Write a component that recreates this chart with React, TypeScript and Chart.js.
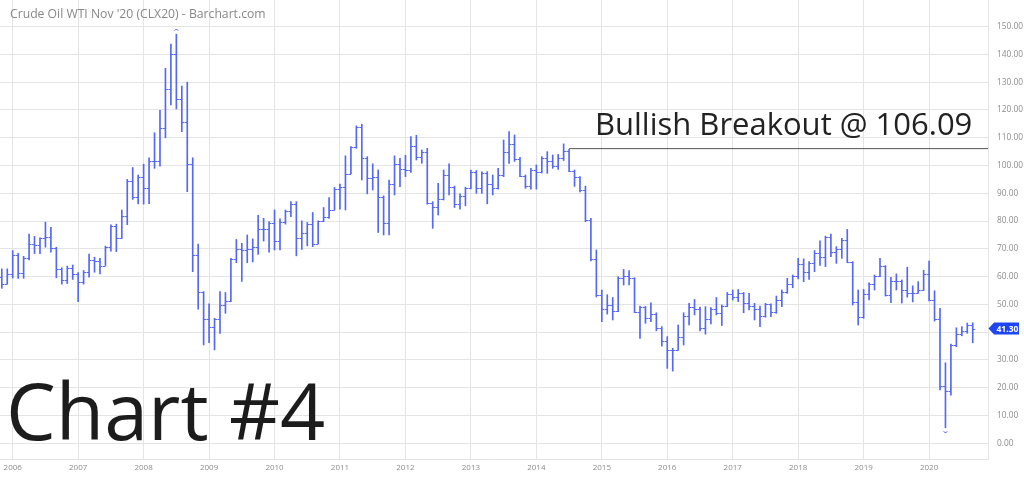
import React, { useEffect, useRef } from 'react';
import { Chart, registerables } from 'chart.js';

Chart.register(...registerables);

// Monthly OHLC, month index 0 = Nov 2005 ... 178 = Sep 2020
const opens = [
  59.8, 57.3,
  61.0, 67.9, 61.4, 66.6, 71.9, 71.3, 73.9, 74.4, 70.3, 62.9, 58.7, 63.0,
  61.05, 58.1, 61.8, 65.9, 65.7, 64.0, 70.7, 78.2, 74.0, 81.7, 94.5, 88.7,
  96.0, 91.75, 101.8, 101.6, 113.5, 127.4, 140.0, 124.1, 115.5, 100.6, 67.8, 54.4,
  44.6, 41.7, 44.8, 49.7, 51.1, 66.3, 69.9, 69.45, 70.0, 70.6, 77.0, 77.3,
  79.4, 72.9, 79.7, 83.8, 86.15, 74.0, 75.6, 79.0, 71.9, 80.0, 81.4, 84.1,
  91.4, 92.2, 97.0, 106.7, 113.9, 102.7, 95.4, 95.7, 88.8, 79.2, 93.2, 100.4,
  98.8, 98.5, 107.1, 103.0, 104.9, 86.5, 85.0, 88.1, 96.5, 92.2, 86.2, 88.9,
  91.8, 97.5, 92.05, 97.2, 93.5, 92.0, 96.6, 105.0, 107.7, 102.3, 96.4, 92.7,
  98.4, 97.5, 102.6, 101.6, 99.7, 102.7, 105.4, 98.2, 96.0, 91.2, 80.5, 66.2,
  53.3, 48.2, 49.8, 47.6, 59.6, 60.3, 59.5, 47.1, 49.2, 45.1, 46.6, 41.65,
  37.0, 33.6, 33.75, 38.3, 45.9, 49.1, 48.3, 41.6, 44.7, 48.2, 46.9, 49.4,
  53.7, 52.8, 54.0, 50.6, 49.3, 48.3, 46.0, 50.2, 47.2, 51.7, 54.4, 57.4,
  60.4, 64.7, 61.6, 64.9, 68.6, 67.0, 74.15, 68.8, 69.8, 73.25, 65.3, 50.9,
  45.4, 53.8, 57.2, 60.1, 63.9, 53.5, 58.5, 58.6, 55.1, 54.1, 54.2, 55.2,
  61.1, 51.6, 44.8, 20.5, 18.8, 35.5, 39.3, 40.3, 42.6,
];
const highs = [
  62.8, 62.8,
  69.4, 68.4, 67.3, 75.3, 74.5, 74.0, 79.6, 77.8, 70.6, 63.2, 63.8, 64.2,
  61.5, 62.2, 68.1, 67.0, 66.6, 71.0, 78.7, 78.9, 84.0, 95.0, 99.3, 96.6,
  100.5, 102.8, 111.8, 119.9, 135.0, 143.7, 147.3, 128.6, 130.0, 102.8, 71.7, 54.6,
  50.2, 45.0, 54.6, 54.3, 66.6, 73.4, 72.0, 75.0, 73.6, 82.1, 81.0, 79.8,
  84.0, 80.8, 84.0, 87.0, 87.0, 80.1, 79.5, 83.1, 80.1, 84.9, 88.5, 92.1,
  93.3, 103.5, 106.8, 114.3, 114.9, 103.2, 100.6, 98.4, 89.1, 94.8, 103.5, 102.6,
  103.7, 110.4, 110.9, 105.6, 106.2, 87.0, 93.6, 98.4, 100.6, 92.6, 89.8, 92.2,
  98.4, 98.2, 97.8, 97.8, 96.6, 99.0, 109.2, 112.2, 111.0, 103.0, 96.6, 99.0,
  100.2, 103.2, 105.0, 103.8, 104.0, 107.8, 105.8, 98.4, 96.0, 92.6, 81.0, 69.6,
  55.2, 53.5, 52.5, 60.0, 62.6, 62.2, 59.6, 49.4, 49.3, 50.6, 47.0, 42.0,
  38.4, 34.2, 42.6, 47.0, 50.4, 51.8, 49.0, 49.2, 48.9, 52.5, 49.8, 54.3,
  55.2, 55.4, 54.3, 54.0, 50.4, 49.4, 50.4, 50.2, 53.0, 55.2, 59.4, 60.6,
  66.6, 66.4, 65.4, 69.4, 72.9, 74.6, 75.3, 70.8, 73.8, 77.0, 65.4, 55.2,
  55.4, 57.8, 60.6, 66.6, 64.0, 59.8, 61.0, 58.8, 63.4, 56.7, 58.2, 62.3,
  65.6, 54.9, 48.6, 29.0, 35.7, 41.6, 42.0, 43.3, 43.4,
];
const lows = [
  55.8, 57.3,
  59.5, 59.4, 59.4, 66.0, 68.3, 68.3, 70.6, 68.8, 59.6, 57.3, 57.5, 59.0,
  51.0, 57.3, 59.8, 61.6, 61.0, 64.0, 69.2, 69.0, 73.8, 78.7, 87.8, 86.2,
  86.1, 86.3, 99.0, 99.8, 110.0, 121.8, 120.4, 112.2, 90.6, 61.8, 48.3, 35.4,
  36.2, 33.6, 39.6, 46.8, 51.0, 65.0, 58.3, 65.0, 65.3, 68.0, 72.8, 68.8,
  69.6, 69.6, 78.9, 81.6, 67.5, 69.8, 71.1, 70.8, 71.8, 79.8, 81.0, 84.0,
  84.3, 84.0, 97.0, 106.2, 94.8, 89.8, 91.2, 75.9, 75.0, 75.0, 89.4, 92.4,
  96.0, 97.5, 102.0, 100.8, 86.1, 77.4, 82.2, 87.6, 89.4, 84.9, 84.3, 85.5,
  91.6, 90.0, 90.0, 86.2, 89.4, 91.5, 96.0, 100.8, 101.5, 96.0, 91.8, 91.5,
  91.5, 97.3, 97.2, 99.0, 98.6, 101.8, 97.8, 92.5, 90.5, 79.8, 65.7, 52.7,
  43.8, 46.5, 44.4, 47.4, 57.0, 57.0, 47.0, 37.8, 43.2, 43.8, 40.5, 35.0,
  27.0, 26.0, 33.5, 35.4, 42.6, 46.2, 40.5, 39.3, 43.0, 46.2, 42.4, 49.2,
  51.6, 51.0, 47.0, 48.0, 44.4, 42.0, 45.4, 45.6, 46.8, 49.2, 54.0, 56.0,
  59.2, 58.2, 59.0, 61.8, 64.0, 63.6, 67.2, 64.8, 66.6, 65.0, 49.8, 42.6,
  45.0, 51.6, 55.2, 60.0, 53.0, 50.6, 55.2, 50.5, 52.6, 50.9, 54.0, 55.0,
  51.3, 44.0, 19.2, 5.6, 17.3, 34.8, 38.7, 39.6, 36.2,
];
const closes = [
  57.3, 61.0,
  67.9, 61.4, 66.6, 71.9, 71.3, 73.9, 74.4, 70.3, 62.9, 58.7, 63.0, 61.05,
  58.1, 61.8, 65.9, 65.7, 64.0, 70.7, 78.2, 74.0, 81.7, 94.5, 88.7, 96.0,
  91.75, 101.8, 101.6, 113.5, 127.4, 140.0, 124.1, 115.5, 100.6, 67.8, 54.4, 44.6,
  41.7, 44.8, 49.7, 51.1, 66.3, 69.9, 69.45, 70.0, 70.6, 77.0, 77.3, 79.4,
  72.9, 79.7, 83.8, 86.15, 74.0, 75.6, 79.0, 71.9, 80.0, 81.4, 84.1, 91.4,
  92.2, 97.0, 106.7, 113.9, 102.7, 95.4, 95.7, 88.8, 79.2, 93.2, 100.4, 98.8,
  98.5, 107.1, 103.0, 104.9, 86.5, 85.0, 88.1, 96.5, 92.2, 86.2, 88.9, 91.8,
  97.5, 92.05, 97.2, 93.5, 92.0, 96.6, 105.0, 107.7, 102.3, 96.4, 92.7, 98.4,
  97.5, 102.6, 101.6, 99.7, 102.7, 105.4, 98.2, 96.0, 91.2, 80.5, 66.2, 53.3,
  48.2, 49.8, 47.6, 59.6, 60.3, 59.5, 47.1, 49.2, 45.1, 46.6, 41.65, 37.0,
  33.6, 33.75, 38.3, 45.9, 49.1, 48.3, 41.6, 44.7, 48.2, 46.9, 49.4, 53.7,
  52.8, 54.0, 50.6, 49.3, 48.3, 46.0, 50.2, 47.2, 51.7, 54.4, 57.4, 60.4,
  64.7, 61.6, 64.9, 68.6, 67.0, 74.15, 68.8, 69.8, 73.25, 65.3, 50.9, 45.4,
  53.8, 57.2, 60.1, 63.9, 53.5, 58.5, 58.6, 55.1, 54.1, 54.2, 55.2, 61.1,
  51.6, 44.8, 20.5, 18.8, 35.5, 39.3, 40.3, 42.6, 41.3,
];

const yearLabels = ['2006', '2007', '2008', '2009', '2010', '2011', '2012', '2013', '2014', '2015', '2016', '2017', '2018', '2019', '2020'];
const yearTickIndex = [2, 14, 26, 38, 50, 62, 74, 86, 98, 110, 122, 134, 146, 158, 170];
const priceTicks = [0, 10, 20, 30, 40, 50, 60, 70, 80, 90, 100, 110, 120, 130, 140, 150];

const breakoutLevel = 106.09;
const breakoutStartIndex = 104;
const lastPrice = 41.3;

const X_MIN = -0.33;
const X_MAX = 180.8;
const Y_MIN = -5.65;
const Y_MAX = 159.6;

const BAR_COLOR = '#5468f4';
const GRID_COLOR = '#e4e4e4';
const BADGE_COLOR = '#1f45f2';
const FONT = '"Open Sans", "DejaVu Sans", sans-serif';

const zeroPadding = (s: any) => {
  s.paddingTop = 0;
  s.paddingBottom = 0;
  s.paddingLeft = 0;
  s.paddingRight = 0;
};

const ohlcPlugin = {
  id: 'ohlcTicks',
  afterDatasetsDraw(chart: any) {
    const meta = chart.getDatasetMeta(0);
    const ys = chart.scales.y;
    const ctx = chart.ctx;
    ctx.save();
    ctx.beginPath();
    const a = chart.chartArea;
    ctx.rect(a.left, a.top, a.right - a.left, a.bottom - a.top);
    ctx.clip();
    ctx.strokeStyle = BAR_COLOR;
    ctx.lineWidth = 1;
    meta.data.forEach((bar: any, i: number) => {
      const x = bar.x;
      const yo = Math.round(ys.getPixelForValue(opens[i])) + 0.5;
      const yc = Math.round(ys.getPixelForValue(closes[i])) + 0.5;
      ctx.beginPath();
      ctx.moveTo(x - 2.5, yo);
      ctx.lineTo(x, yo);
      ctx.moveTo(x, yc);
      ctx.lineTo(x + 2.5, yc);
      ctx.stroke();
    });
    // highest high / lowest low markers
    let hi = 0, lo = 0;
    highs.forEach((v, i) => { if (v > highs[hi]) hi = i; });
    lows.forEach((v, i) => { if (v < lows[lo]) lo = i; });
    const xs = chart.scales.x;
    ctx.beginPath();
    ctx.arc(xs.getPixelForValue(hi), ys.getPixelForValue(highs[hi]) - 3, 1.8, Math.PI * 1.1, Math.PI * 1.9);
    ctx.stroke();
    ctx.beginPath();
    ctx.arc(xs.getPixelForValue(lo), ys.getPixelForValue(lows[lo]) + 3, 1.8, Math.PI * 0.1, Math.PI * 0.9);
    ctx.stroke();
    ctx.restore();
  },
  afterDraw(chart: any) {
    const ys = chart.scales.y;
    const ctx = chart.ctx;
    const yp = ys.getPixelForValue(lastPrice);
    const left = chart.chartArea.right;
    ctx.save();
    ctx.fillStyle = BADGE_COLOR;
    ctx.beginPath();
    ctx.moveTo(left + 0.5, yp);
    ctx.lineTo(left + 6, yp - 6);
    ctx.lineTo(left + 31, yp - 6);
    ctx.lineTo(left + 31, yp + 6);
    ctx.lineTo(left + 6, yp + 6);
    ctx.closePath();
    ctx.fill();
    ctx.fillStyle = '#ffffff';
    ctx.font = `bold 8.5px ${FONT}`;
    ctx.textAlign = 'left';
    ctx.textBaseline = 'middle';
    ctx.fillText(lastPrice.toFixed(2), left + 8.5, yp + 0.5);
    ctx.restore();
  },
};

export default function App() {
  const canvasRef = useRef<HTMLCanvasElement | null>(null);

  useEffect(() => {
    if (!canvasRef.current) return;
    Chart.defaults.font.family = FONT;
    const chart = new Chart(canvasRef.current, {
      type: 'bar',
      data: {
        datasets: [
          {
            type: 'bar',
            data: highs.map((h, i) => ({ x: i, y: [lows[i], h] })) as any,
            backgroundColor: BAR_COLOR,
            borderWidth: 0,
            barThickness: 1,
            grouped: false,
          } as any,
          {
            type: 'line',
            data: [
              { x: breakoutStartIndex, y: breakoutLevel },
              { x: X_MAX, y: breakoutLevel },
            ],
            borderColor: '#555555',
            borderWidth: 1,
            pointRadius: 0,
            fill: false,
          } as any,
        ],
      },
      options: {
        responsive: false,
        animation: false,
        devicePixelRatio: 1,
        layout: { padding: 0 },
        plugins: {
          legend: { display: false },
          tooltip: { enabled: false },
          title: { display: false },
        },
        scales: {
          x: {
            type: 'linear',
            min: X_MIN,
            max: X_MAX,
            offset: false,
            afterBuildTicks: (s: any) => {
              s.ticks = yearTickIndex.map((v) => ({ value: v }));
            },
            afterFit: (s: any) => {
              s.height = 18;
              zeroPadding(s);
            },
            grid: { color: GRID_COLOR, drawTicks: false, offset: false },
            border: { color: GRID_COLOR },
            ticks: {
              autoSkip: false,
              maxRotation: 0,
              padding: 4,
              color: '#8c8c8c',
              font: { size: 8 },
              callback: (_v: any, idx: number) => yearLabels[idx],
            },
          },
          y: {
            type: 'linear',
            position: 'right',
            min: Y_MIN,
            max: Y_MAX,
            afterBuildTicks: (s: any) => {
              s.ticks = priceTicks.map((v) => ({ value: v }));
            },
            afterFit: (s: any) => {
              s.width = 36;
              zeroPadding(s);
            },
            grid: { color: GRID_COLOR, drawTicks: false },
            border: { color: GRID_COLOR },
            ticks: {
              padding: 9,
              color: '#8c8c8c',
              font: { size: 8.3 },
              callback: (v: any) => (Math.abs(Number(v) - lastPrice) < 3.5 ? '' : Number(v).toFixed(2)),
            },
          },
        },
      } as any,
      plugins: [ohlcPlugin],
    });
    return () => chart.destroy();
  }, []);

  return (
    <div style={{ position: 'fixed', left: 0, top: 0, width: 1024, height: 477, background: '#ffffff', overflow: 'hidden' }}>
      <canvas ref={canvasRef} width={1024} height={477} style={{ position: 'absolute', left: 0, top: 0 }} />
      <div style={{ position: 'absolute', left: 10, top: 8.3, fontFamily: FONT, fontSize: 12.2, lineHeight: 1, color: '#888888', whiteSpace: 'nowrap' }}>
        Crude Oil WTI Nov '20 (CLX20) - Barchart.com
      </div>
      <div style={{ position: 'absolute', left: 595, top: 108.2, fontFamily: FONT, fontSize: 31, lineHeight: 1, color: '#222222', whiteSpace: 'nowrap' }}>
        Bullish Breakout @ 106.09
      </div>
      <div style={{ position: 'absolute', left: 6, top: 370, fontFamily: FONT, fontSize: 79, lineHeight: 1, color: '#1c1c1c', whiteSpace: 'nowrap' }}>
        Chart #4
      </div>
    </div>
  );
}
